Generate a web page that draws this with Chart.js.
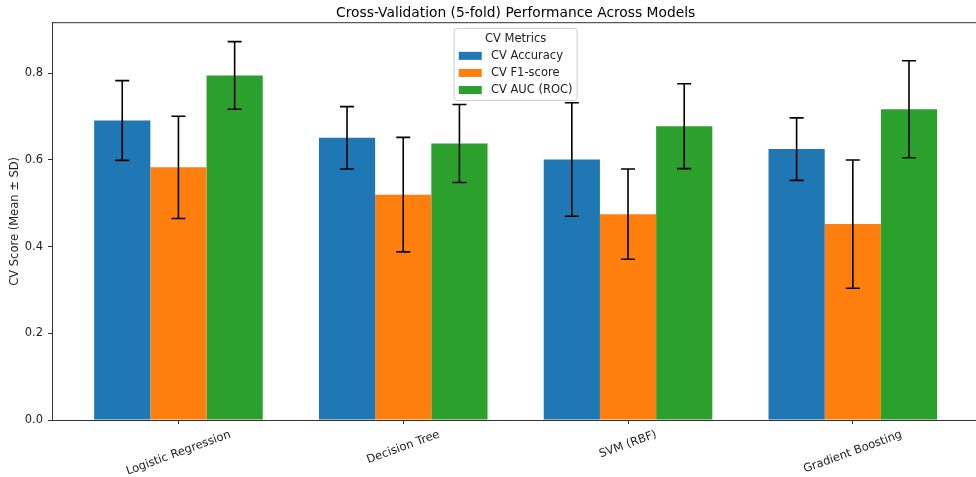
<!DOCTYPE html>
<html>
<head>
<meta charset="utf-8">
<script src="https://cdn.jsdelivr.net/npm/chart.js@4.4.0/dist/chart.umd.min.js"></script>
<style>
  html, body { margin: 0; padding: 0; background: #fff; overflow: hidden; }
  canvas { display: block; }
</style>
</head>
<body>
<canvas id="cv" width="976" height="477"></canvas>
<script>
// Models on the x axis
const models = ['Logistic Regression', 'Decision Tree', 'SVM (RBF)', 'Gradient Boosting'];

// Metric series (mean and standard deviation over 5 folds)
const metricNames = ['CV Accuracy', 'CV F1-score', 'CV AUC (ROC)'];
const metricColors = ['#1f77b4', '#ff7f0e', '#2ca02c'];
const accMean = [0.691, 0.651, 0.601, 0.625];
const accSd   = [0.092, 0.072, 0.131, 0.072];
const f1Mean  = [0.583, 0.520, 0.475, 0.452];
const f1Sd    = [0.118, 0.132, 0.104, 0.148];
const aucMean = [0.795, 0.638, 0.678, 0.717];
const aucSd   = [0.078, 0.090, 0.098, 0.112];

// Y axis tick values
const yTicks = [0.0, 0.2, 0.4, 0.6, 0.8];

const chartTitle = 'Cross-Validation (5-fold) Performance Across Models';
const yAxisTitle = 'CV Score (Mean \u00b1 SD)';
const legendTitle = 'CV Metrics';

const FONT = "'DejaVu Sans', sans-serif";
const FS = 11.5;          // tick / legend font size (px)
const TITLE_FS = 13.8;    // title font size (px)
const INK = '#222';
const SPINE = '#333';

// axis limits (5% margins around the bars / error bars)
const X_MIN = -0.5625;
const X_MAX = 3.548;
const Y_MAX = 0.9167;

const means = [accMean, f1Mean, aucMean];
const sds = [accSd, f1Sd, aucSd];

const datasets = metricNames.map((name, k) => ({
  label: name,
  data: models.map((_, i) => ({ x: i, y: means[k][i] })),
  sd: sds[k],
  backgroundColor: metricColors[k],
  borderWidth: 0
}));

// Error bars, top spine, title, rotated category labels and legend
const decor = {
  id: 'decor',
  afterDatasetsDraw(chart) {
    const { ctx, chartArea, scales: { y } } = chart;
    ctx.save();
    ctx.strokeStyle = '#000';
    ctx.lineWidth = 1.6;
    const cap = 7;
    chart.data.datasets.forEach((ds, di) => {
      const meta = chart.getDatasetMeta(di);
      meta.data.forEach((bar, i) => {
        const m = ds.data[i].y, s = ds.sd[i];
        const yt = y.getPixelForValue(m + s);
        const yb = y.getPixelForValue(m - s);
        ctx.beginPath();
        ctx.moveTo(bar.x, yt); ctx.lineTo(bar.x, yb);
        ctx.moveTo(bar.x - cap, yt); ctx.lineTo(bar.x + cap, yt);
        ctx.moveTo(bar.x - cap, yb); ctx.lineTo(bar.x + cap, yb);
        ctx.stroke();
      });
    });
    // top spine
    ctx.strokeStyle = SPINE;
    ctx.lineWidth = 1;
    ctx.beginPath();
    ctx.moveTo(chartArea.left, chartArea.top);
    ctx.lineTo(chartArea.right, chartArea.top);
    ctx.stroke();
    ctx.restore();
  },
  afterDraw(chart) {
    const { ctx, chartArea, scales: { x } } = chart;
    const midX = x.getPixelForValue((X_MIN + 3.5625) / 2);
    ctx.save();

    // title
    ctx.fillStyle = '#000';
    ctx.font = `${TITLE_FS}px ${FONT}`;
    ctx.textAlign = 'center';
    ctx.textBaseline = 'alphabetic';
    ctx.fillText(chartTitle, midX, chartArea.top - 5.8);

    // rotated category labels, bounding box centred under each tick
    ctx.font = `${FS}px ${FONT}`;
    ctx.fillStyle = INK;
    const ang = 20 * Math.PI / 180;
    const lh = FS * 1.17;
    models.forEach((name, i) => {
      const w = ctx.measureText(name).width;
      const bh = w * Math.sin(ang) + lh * Math.cos(ang);
      const cx = x.getPixelForValue(i);
      const cy = chartArea.bottom + 4 + 3.9 + bh / 2;
      ctx.save();
      ctx.translate(cx, cy);
      ctx.rotate(-ang);
      ctx.textAlign = 'center';
      ctx.textBaseline = 'middle';
      ctx.fillText(name, 0, 0);
      ctx.restore();
    });

    // legend (upper centre)
    const pad = 0.4 * FS, hl = 2.0 * FS, htp = 0.8 * FS;
    const maxW = Math.max(...chart.data.datasets.map(d => ctx.measureText(d.label).width));
    const titleW = ctx.measureText(legendTitle).width;
    const innerW = Math.max(titleW, hl + htp + maxW);
    const bw = innerW + 2 * pad;
    const top = chartArea.top + 0.5 * FS;
    const rowH = 17.1;
    const bh = 72;
    const left = midX - bw / 2;
    const r = 3;
    ctx.beginPath();
    ctx.moveTo(left + r, top);
    ctx.lineTo(left + bw - r, top);
    ctx.arcTo(left + bw, top, left + bw, top + r, r);
    ctx.lineTo(left + bw, top + bh - r);
    ctx.arcTo(left + bw, top + bh, left + bw - r, top + bh, r);
    ctx.lineTo(left + r, top + bh);
    ctx.arcTo(left, top + bh, left, top + bh - r, r);
    ctx.lineTo(left, top + r);
    ctx.arcTo(left, top, left + r, top, r);
    ctx.closePath();
    ctx.fillStyle = 'rgba(255,255,255,0.8)';
    ctx.fill();
    ctx.strokeStyle = '#cccccc';
    ctx.lineWidth = 1;
    ctx.stroke();

    ctx.fillStyle = INK;
    ctx.textAlign = 'center';
    ctx.textBaseline = 'middle';
    const titleY = top + 10.3;
    ctx.fillText(legendTitle, midX, titleY);
    ctx.textAlign = 'left';
    chart.data.datasets.forEach((ds, k) => {
      const cy = titleY + rowH * (k + 1);
      ctx.fillStyle = ds.backgroundColor;
      ctx.fillRect(left + pad, cy - 4, hl, 8);
      ctx.fillStyle = INK;
      ctx.fillText(ds.label, left + pad + hl + htp, cy);
    });
    ctx.restore();
  }
};

new Chart(document.getElementById('cv'), {
  type: 'bar',
  data: { datasets },
  options: {
    responsive: false,
    animation: false,
    devicePixelRatio: 1,
    layout: { padding: { top: 22.7, left: 0, right: 0, bottom: 0 } },
    datasets: { bar: { categoryPercentage: 0.75, barPercentage: 1.0 } },
    plugins: {
      legend: { display: false },
      title: { display: false },
      tooltip: { enabled: false }
    },
    scales: {
      x: {
        type: 'linear',
        min: X_MIN,
        max: X_MAX,
        offset: false,
        grid: { offset: false, display: true, drawOnChartArea: false, drawTicks: true, tickLength: 4, tickWidth: 1, tickColor: SPINE },
        border: { display: true, color: SPINE, width: 1 },
        ticks: { display: false },
        afterBuildTicks: s => { s.ticks = models.map((_, i) => ({ value: i })); },
        afterFit: s => { s.height = 57; }
      },
      y: {
        type: 'linear',
        min: 0,
        max: Y_MAX,
        grid: { display: true, drawOnChartArea: false, drawTicks: true, tickLength: 4, tickWidth: 1, tickColor: SPINE },
        border: { display: true, color: SPINE, width: 1 },
        ticks: {
          padding: 5,
          color: INK,
          font: { family: FONT, size: FS },
          callback: v => Number(v).toFixed(1)
        },
        afterBuildTicks: s => { s.ticks = yTicks.map(v => ({ value: v })); },
        afterFit: s => { s.width = 52; },
        title: {
          display: true,
          text: yAxisTitle,
          color: INK,
          font: { family: FONT, size: FS },
          padding: { top: 8, bottom: 0 }
        }
      }
    }
  },
  plugins: [decor]
});
</script>
</body>
</html>
